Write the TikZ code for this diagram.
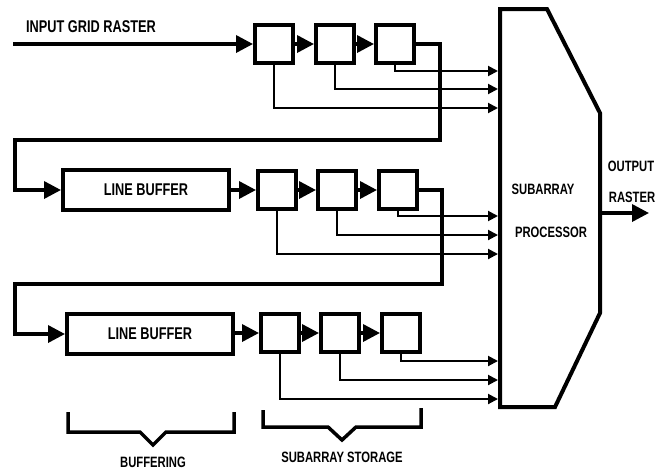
\documentclass[tikz,border=0pt]{standalone}
\usepackage{fontspec}
\newfontfamily\lblfont[FakeStretch=0.75]{Liberation Sans}
\usetikzlibrary{arrows.meta}
\begin{document}
\begin{tikzpicture}[x=1pt,y=-1pt, line join=miter,
 blk/.style={draw, line width=4pt, minimum width=38pt, minimum height=38pt, inner sep=0pt},
 lbuf/.style={draw, line width=4pt, minimum width=166pt, minimum height=40pt, inner sep=0pt, font=\lblfont\bfseries\fontsize{17}{19}\selectfont},
 flow/.style={line width=3.5pt, -{Triangle[length=17pt,width=17pt]}},
 tap/.style={line width=2pt, -{Triangle[length=10pt,width=10pt]}},
 brace/.style={line width=3.5pt},
 big/.style={font=\lblfont\bfseries\fontsize{17}{19}\selectfont, inner sep=0pt},
 small/.style={font=\lblfont\bfseries\fontsize{15}{17}\selectfont, inner sep=0pt},
]
\useasboundingbox (0,0) rectangle (669,472);
% processor
\node[minimum width=100pt, minimum height=398pt, inner sep=0pt, outer sep=2pt] (proc) at (550,208) {};
\draw[line width=4pt] (500,9) -- (547,9) -- (600,113) -- (600,313) -- (555,407) -- (500,407) -- cycle;
\node[small] (tsub) at (543,189) {SUBARRAY};
\node[small] (tproc) at (551,232) {PROCESSOR};
\node[small] (tout) at (631,166) {OUTPUT};
\node[small] (tras) at (632,197) {RASTER};
\coordinate (outc) at (649,213);
\draw[flow] (proc.east |- 0,213) -- (outc);
% row 1
\node[big] (tin) at (91,27) {INPUT GRID RASTER};
\coordinate (in) at (13,44);
\node[blk] (b11) at (274,44) {};
\node[blk] (b12) at (335,44) {};
\node[blk] (b13) at (395,44) {};
\draw[flow] (in) -- (b11);
\draw[flow] (b11) -- (b12);
\draw[flow] (b12) -- (b13);
\draw[tap] (b13.south) |- (proc.west |- 0,71);
\draw[tap] (b12.south) |- (proc.west |- 0,89);
\draw[tap] (b11.south) |- (proc.west |- 0,108);
% row 2
\node[lbuf] (lb2) at (146,190) {LINE BUFFER};
\node[blk] (b21) at (277,190) {};
\node[blk] (b22) at (337,190) {};
\node[blk] (b23) at (398,190) {};
\coordinate (r1) at (440,140);
\coordinate (l1) at (15,140);
\draw[flow] (b13.east) -| (r1) -- (l1) |- (lb2.west);
\draw[flow] (lb2) -- (b21);
\draw[flow] (b21) -- (b22);
\draw[flow] (b22) -- (b23);
\draw[tap] (b23.south) |- (proc.west |- 0,216);
\draw[tap] (b22.south) |- (proc.west |- 0,235);
\draw[tap] (b21.south) |- (proc.west |- 0,254);
% row 3
\node[lbuf] (lb3) at (150,334) {LINE BUFFER};
\node[blk] (b31) at (280,333) {};
\node[blk] (b32) at (340,333) {};
\node[blk] (b33) at (401,333) {};
\coordinate (r2) at (442,284);
\coordinate (l2) at (15,284);
\draw[flow] (b23.east) -| (r2) -- (l2) |- (lb3.west);
\draw[flow] (lb3.east |- b31) -- (b31);
\draw[flow] (b31) -- (b32);
\draw[flow] (b32) -- (b33);
\draw[tap] (b33.south) |- (proc.west |- 0,361);
\draw[tap] (b32.south) |- (proc.west |- 0,380);
\draw[tap] (b31.south) |- (proc.west |- 0,399);
% braces
\draw[brace] (68,412) -- (68,432) -- (140,432) -- (153,445) -- (166,432) -- (234,432) -- (234,412);
\draw[brace] (263,410) -- (263,427) -- (328,427) -- (342,440) -- (356,427) -- (421,427) -- (421,408);
\node[small] (tbuf) at (153,462) {BUFFERING};
\node[small] (tsto) at (342,457) {SUBARRAY STORAGE};
\end{tikzpicture}
\end{document}
